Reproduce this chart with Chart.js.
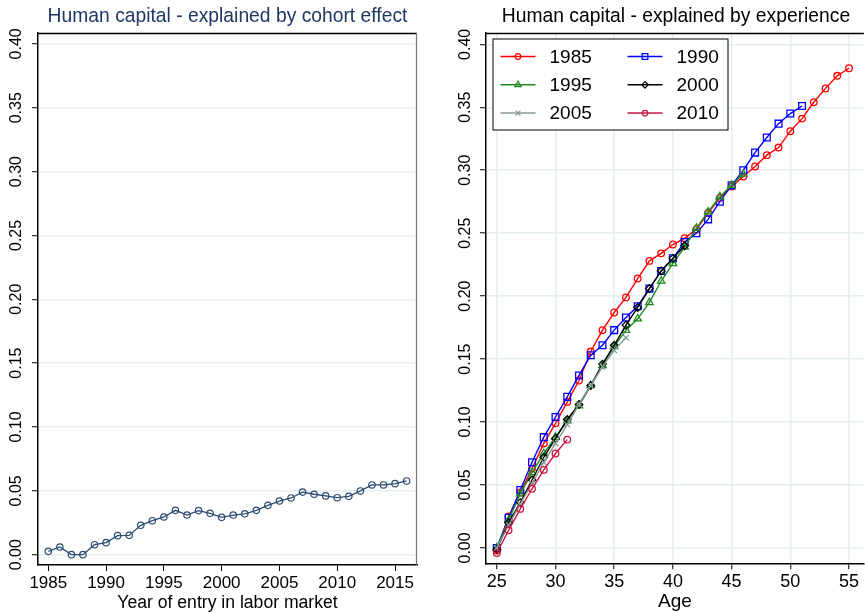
<!DOCTYPE html>
<html>
<head>
<meta charset="utf-8">
<script src="https://cdn.jsdelivr.net/npm/chart.js@4.4.1/dist/chart.umd.min.js"></script>
<style>
  html, body { margin: 0; padding: 0; background: #fff; overflow: hidden; }
  #wrap { position: relative; width: 865px; height: 612px; overflow: hidden; }
  #left { position: absolute; left: 0; top: 0; }
  #right { position: absolute; left: 430px; top: 0; }
</style>
</head>
<body>
<div id="wrap">
  <canvas id="left" width="430" height="612"></canvas>
  <canvas id="right" width="440" height="612"></canvas>
</div>
<script>
// left panel: cohort effect by year of entry
const entryYears = [1985, 1986, 1987, 1988, 1989, 1990, 1991, 1992, 1993, 1994, 1995, 1996, 1997, 1998, 1999, 2000,
                    2001, 2002, 2003, 2004, 2005, 2006, 2007, 2008, 2009, 2010, 2011, 2012, 2013, 2014, 2015, 2016];
const cohortEffect = [0.0026, 0.0060, 0.0000, 0.0000, 0.0078, 0.0094, 0.0149, 0.0151, 0.0230, 0.0266, 0.0295, 0.0347,
                      0.0310, 0.0345, 0.0324, 0.0292, 0.0310, 0.0320, 0.0347, 0.0386, 0.0420, 0.0444, 0.0490, 0.0473,
                      0.0460, 0.0446, 0.0457, 0.0499, 0.0546, 0.0546, 0.0556, 0.0577];

// right panel: experience profile by age, one series per entry cohort
const ages = [25, 26, 27, 28, 29, 30, 31, 32, 33, 34, 35, 36, 37, 38, 39, 40,
              41, 42, 43, 44, 45, 46, 47, 48, 49, 50, 51, 52, 53, 54, 55];
const cohorts = ['1985', '1990', '1995', '2000', '2005', '2010'];
const exp1985 = [-0.002, 0.025, 0.044, 0.063, 0.083, 0.099, 0.116, 0.133, 0.156, 0.173, 0.187, 0.199, 0.214, 0.228,
                 0.234, 0.241, 0.246, 0.253, 0.266, 0.278, 0.287, 0.295, 0.303, 0.312, 0.318, 0.331, 0.341, 0.354,
                 0.365, 0.375, 0.381];
const exp1990 = [0.000, 0.024, 0.046, 0.068, 0.088, 0.104, 0.120, 0.137, 0.153, 0.161, 0.173, 0.183, 0.192, 0.206,
                 0.220, 0.230, 0.243, 0.250, 0.261, 0.275, 0.288, 0.300, 0.314, 0.326, 0.337, 0.345, 0.351];
const exp1995 = [0.000, 0.022, 0.043, 0.060, 0.075, 0.088, 0.101, 0.113, 0.129, 0.145, 0.160, 0.173, 0.182, 0.195,
                 0.212, 0.226, 0.239, 0.254, 0.267, 0.279, 0.288, 0.297];
const exp2000 = [-0.001, 0.020, 0.036, 0.054, 0.072, 0.087, 0.102, 0.114, 0.129, 0.146, 0.161, 0.177, 0.191, 0.206,
                 0.220, 0.230, 0.240];
const exp2005 = [0.000, 0.018, 0.035, 0.051, 0.068, 0.083, 0.098, 0.114, 0.129, 0.144, 0.157, 0.167];
const exp2010 = [-0.004, 0.014, 0.031, 0.047, 0.062, 0.075, 0.086];

const yTickStep = 0.05;
const xTickStep = 5;

const FONT = "'Liberation Sans', Arial, Helvetica, sans-serif";
Chart.defaults.font.family = FONT;
Chart.defaults.color = '#000';
Chart.defaults.animation = false;

const toPoints = (xs, ys) => ys.map((v, i) => ({ x: xs[i], y: v }));

// box around the plot region (top + right side)
const framePlugin = {
  id: 'frame',
  beforeDatasetsDraw(chart, args, opts) {
    const a = chart.chartArea, ctx = chart.ctx;
    ctx.save();
    ctx.lineWidth = 1.5;
    ctx.strokeStyle = '#000';
    ctx.beginPath();
    ctx.moveTo(a.left, a.top + 0.5);
    ctx.lineTo(a.right, a.top + 0.5);
    ctx.stroke();
    if (opts.right) {
      ctx.lineWidth = 1.2;
      ctx.strokeStyle = opts.right;
      ctx.beginPath();
      ctx.moveTo(a.right - 0.5, a.top);
      ctx.lineTo(a.right - 0.5, a.bottom);
      ctx.stroke();
    }
    ctx.restore();
  }
};

// stata style vertical y tick labels
const yLabelPlugin = {
  id: 'yLabels',
  afterDraw(chart, args, opts) {
    const s = chart.scales.y, ctx = chart.ctx;
    ctx.save();
    ctx.font = opts.size + 'px ' + FONT;
    ctx.fillStyle = '#000';
    ctx.textAlign = 'center';
    ctx.textBaseline = 'middle';
    s.ticks.forEach(t => {
      const y = s.getPixelForValue(t.value);
      ctx.save();
      ctx.translate(opts.x, y);
      ctx.rotate(-Math.PI / 2);
      ctx.fillText(Math.abs(t.value) < 1e-9 ? '0.00' : t.value.toFixed(2), 0, 0);
      ctx.restore();
    });
    ctx.restore();
  }
};

const titlePlugin = {
  id: 'ptitle',
  afterDraw(chart, args, opts) {
    const ctx = chart.ctx;
    ctx.save();
    ctx.font = opts.size + 'px ' + FONT;
    ctx.fillStyle = opts.color;
    ctx.textAlign = 'center';
    ctx.textBaseline = 'middle';
    ctx.fillText(opts.text, opts.cx, opts.y);
    ctx.restore();
  }
};

function markerAt(ctx, style, r, x, y) {
  if (Chart.helpers && Chart.helpers.drawPoint) {
    Chart.helpers.drawPoint(ctx, { pointStyle: style, radius: r, borderWidth: ctx.lineWidth, rotation: 0 }, x, y);
  } else {
    ctx.beginPath(); ctx.arc(x, y, r, 0, Math.PI * 2); ctx.stroke();
  }
}

// two column legend in the top-left corner of the plot
const boxLegendPlugin = {
  id: 'boxLegend',
  afterDraw(chart, args, opts) {
    const ctx = chart.ctx;
    ctx.save();
    ctx.fillStyle = '#fff';
    ctx.fillRect(opts.x, opts.y, opts.w, opts.h);
    ctx.lineWidth = 1;
    ctx.strokeStyle = '#000';
    ctx.strokeRect(opts.x + 0.5, opts.y + 0.5, opts.w, opts.h);
    ctx.font = opts.size + 'px ' + FONT;
    ctx.textBaseline = 'middle';
    ctx.textAlign = 'left';
    chart.data.datasets.forEach((ds, i) => {
      const col = i % 2, row = Math.floor(i / 2);
      const lx = opts.x + 8 + col * 127;
      const ly = opts.y + 18 + row * 28.3;
      ctx.strokeStyle = ds.borderColor;
      ctx.fillStyle = 'rgba(0,0,0,0)';
      ctx.lineWidth = 1.5;
      ctx.beginPath();
      ctx.moveTo(lx, ly);
      ctx.lineTo(lx + 35, ly);
      ctx.stroke();
      ctx.lineWidth = 1.2;
      markerAt(ctx, ds.pointStyle, ds.pointRadius * 0.85, lx + 17.5, ly);
      ctx.fillStyle = '#000';
      ctx.fillText(ds.label, lx + 49, ly + 1);
    });
    ctx.restore();
  }
};

const gridColor = '#e4eef0';

// ---------- left chart ----------
new Chart(document.getElementById('left'), {
  type: 'line',
  data: {
    datasets: [{
      label: 'Cohort effect',
      data: toPoints(entryYears, cohortEffect),
      borderColor: '#2b4b70',
      borderWidth: 1.3,
      pointStyle: 'circle',
      pointRadius: 3.2,
      pointBorderWidth: 1.2,
      pointBorderColor: '#2b4b70',
      pointBackgroundColor: 'rgba(0,0,0,0)',
      tension: 0
    }]
  },
  options: {
    responsive: false,
    devicePixelRatio: 1,
    layout: { padding: { top: 33, right: 13, left: 0, bottom: 0 } },
    scales: {
      x: {
        type: 'linear',
        min: 1984.11,
        max: 2016.9,
        ticks: { stepSize: xTickStep, includeBounds: false, autoSkip: false, maxRotation: 0,
                 font: { size: 17, lineHeight: 1 }, padding: 4, callback: v => String(v) },
        grid: { drawOnChartArea: false, tickLength: 6, tickColor: '#000', tickWidth: 1 },
        border: { color: '#000', width: 1.5 },
        title: { display: true, text: 'Year of entry in labor market', font: { size: 17.6, lineHeight: 1 },
                 padding: { top: 0, bottom: 0.5 } },
        afterFit: s => { s.height = 47; }
      },
      y: {
        min: -0.0081,
        max: 0.4085,
        ticks: { stepSize: yTickStep, includeBounds: false, color: 'rgba(0,0,0,0)' },
        grid: { color: gridColor, lineWidth: 1.5, tickLength: 6, tickColor: '#000', tickWidth: 1 },
        border: { color: '#000', width: 1.5 },
        afterFit: s => { s.width = 38; }
      }
    },
    plugins: {
      legend: { display: false },
      tooltip: { enabled: false },
      frame: { right: '#777' },
      yLabels: { x: 17, size: 16 },
      ptitle: { text: 'Human capital - explained by cohort effect', color: '#1f3763', size: 19.3, cx: 227.5, y: 17 }
    }
  },
  plugins: [framePlugin, yLabelPlugin, titlePlugin]
});

// ---------- right chart ----------
const seriesValues = [exp1985, exp1990, exp1995, exp2000, exp2005, exp2010];
const seriesColors = ['#ff0000', '#0000ff', '#1f8b1f', '#000000', '#879b98', '#c8173f'];
const seriesMarkers = ['circle', 'rect', 'triangle', 'rectRot', 'crossRot', 'circle'];
const markerSizes = [3.3, 4.8, 4.3, 3.8, 4.0, 3.3];

new Chart(document.getElementById('right'), {
  type: 'line',
  data: {
    datasets: cohorts.map((c, i) => ({
      label: c,
      data: toPoints(ages, seriesValues[i]),
      borderColor: seriesColors[i],
      borderWidth: 1.4,
      pointStyle: seriesMarkers[i],
      pointRadius: markerSizes[i],
      pointBorderWidth: 1.3,
      pointBorderColor: seriesColors[i],
      pointBackgroundColor: 'rgba(0,0,0,0)',
      tension: 0,
      order: cohorts.length - i
    }))
  },
  options: {
    responsive: false,
    devicePixelRatio: 1,
    layout: { padding: { top: 33, right: 0, left: 0, bottom: 0 } },
    scales: {
      x: {
        type: 'linear',
        min: 24.078,
        max: 56.27,
        ticks: { stepSize: xTickStep, includeBounds: false, autoSkip: false, maxRotation: 0,
                 font: { size: 18, lineHeight: 1 }, padding: 3.4, callback: v => String(v) },
        grid: { color: gridColor, lineWidth: 1.5, tickLength: 6, tickColor: '#000', tickWidth: 1 },
        border: { color: '#000', width: 1.5 },
        title: { display: true, text: 'Age', font: { size: 19, lineHeight: 1 }, padding: { top: 0, bottom: 0.8 } },
        afterFit: s => { s.height = 612 - 563.3; }
      },
      y: {
        min: -0.0122,
        max: 0.409,
        ticks: { stepSize: yTickStep, includeBounds: false, color: 'rgba(0,0,0,0)' },
        grid: { color: gridColor, lineWidth: 1.5, tickLength: 6, tickColor: '#000', tickWidth: 1 },
        border: { color: '#000', width: 1.5 },
        afterFit: s => { s.width = 56; }
      }
    },
    plugins: {
      legend: { display: false },
      tooltip: { enabled: false },
      frame: {},
      yLabels: { x: 36, size: 16 },
      ptitle: { text: 'Human capital - explained by experience', color: '#000', size: 19.3, cx: 246, y: 17 },
      boxLegend: { x: 62.5, y: 38.5, w: 235, h: 91, size: 19 }
    }
  },
  plugins: [framePlugin, yLabelPlugin, titlePlugin, boxLegendPlugin]
});
</script>
</body>
</html>
